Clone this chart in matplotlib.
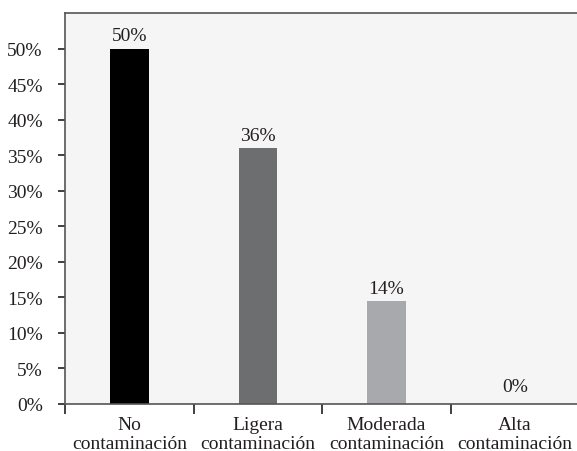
import matplotlib.pyplot as plt
import numpy as np

# data ---------------------------------------------------------
categories = ['No\ncontaminación', 'Ligera\ncontaminación',
              'Moderada\ncontaminación', 'Alta\ncontaminación']
values = [50, 36, 14.5, 0]
labels = ['50%', '36%', '14%', '0%']
colors = ['#000000', '#6d6e70', '#a7a9ac', '#a7a9ac']
yticks = np.arange(0, 55, 5)

plt.rcParams['font.family'] = ['Liberation Serif', 'DejaVu Serif']
txt = '#231f20'
fs = 14

fig = plt.figure(figsize=(5.77, 4.52), dpi=100)
ax = fig.add_axes([65/577, 1-405/452, 1-65/577+0.004, (405-14)/452])
ax.set_facecolor('#f5f5f5')

x = np.arange(len(categories))
ax.bar(x, values, width=0.30, color=colors, zorder=2)
for xi, v, lab in zip(x, values, labels):
    off = 0.6 if v > 0 else 1.3
    ax.text(xi, v + off, lab, ha='center', va='bottom', fontsize=fs, color=txt)

ax.set_xlim(-0.5, 3.5)
ax.set_ylim(0, 55)
ax.set_yticks(yticks)
ax.set_yticklabels([f'{t}%' for t in yticks], fontsize=fs, color=txt)

# category labels between boundary ticks
ax.set_xticks(np.arange(-0.5, 3.5, 1.0))
ax.set_xticklabels([])
ax.set_xticks(x, minor=True)
ax.set_xticklabels(categories, minor=True, fontsize=fs, color=txt,
                   linespacing=1.1)
ax.tick_params(axis='x', which='minor', length=0, pad=9)
ax.tick_params(axis='x', which='major', length=7, width=1.2, color='#231f20',
               direction='out')
ax.tick_params(axis='y', length=5, width=1.2, color='#231f20', pad=11)

for s in ['left', 'top', 'bottom']:
    ax.spines[s].set_color('#555555')
    ax.spines[s].set_linewidth(1.2)
ax.spines['right'].set_visible(False)

fig.savefig('out.png', dpi=100)
